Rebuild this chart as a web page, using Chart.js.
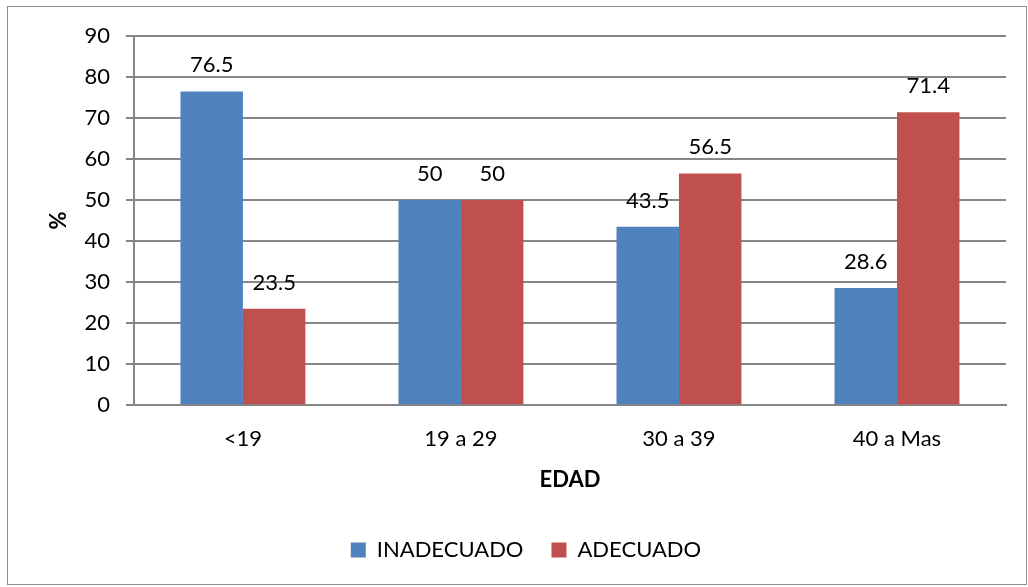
<!DOCTYPE html>
<html>
<head>
<meta charset="utf-8">
<script src="https://cdn.jsdelivr.net/npm/chart.js@4/dist/chart.umd.min.js"></script>
<style>
html,body{margin:0;padding:0;background:#fff;}
#wrap{position:relative;width:1028px;height:587px;}
</style>
</head>
<body>
<div id="wrap"><canvas id="c" width="1028" height="587"></canvas></div>
<script>
const categories = ["<19", "19 a 29", "30 a 39", "40 a Mas"];
const inadecuado = [76.5, 50, 43.5, 28.6];
const adecuado = [23.5, 50, 56.5, 71.4];
const seriesNames = ["INADECUADO", "ADECUADO"];
const yTicks = [0, 10, 20, 30, 40, 50, 60, 70, 80, 90];

const FONT = "Lato, 'Open Sans', sans-serif";

const frame = {
  id: 'frame',
  beforeDraw(chart) {
    const ctx = chart.ctx;
    ctx.save();
    ctx.fillStyle = '#fff';
    ctx.fillRect(0, 0, chart.width, chart.height);
    ctx.strokeStyle = '#8c8c8c';
    ctx.lineWidth = 1;
    ctx.strokeRect(7.5, 6.5, 1019, 578);
    ctx.restore();
  }
};

const valueLabels = {
  id: 'valueLabels',
  afterDatasetsDraw(chart) {
    const ctx = chart.ctx;
    ctx.save();
    ctx.font = "22px " + FONT;
    ctx.fillStyle = '#000';
    ctx.textAlign = 'center';
    ctx.textBaseline = 'alphabetic';
    chart.data.datasets.forEach((ds, i) => {
      const meta = chart.getDatasetMeta(i);
      meta.data.forEach((el, j) => {
        ctx.fillText(String(ds.data[j]), el.x, el.y - 19);
      });
    });
    ctx.restore();
  }
};

new Chart(document.getElementById('c'), {
  type: 'bar',
  data: {
    labels: categories,
    datasets: [
      { label: seriesNames[0], data: inadecuado, backgroundColor: '#4f81bd', borderWidth: 0 },
      { label: seriesNames[1], data: adecuado, backgroundColor: '#c0504d', borderWidth: 0 }
    ]
  },
  options: {
    responsive: false,
    animation: false,
    devicePixelRatio: 1,
    layout: { padding: { left: 46, right: 22, top: 36, bottom: 16 } },
    datasets: { bar: { categoryPercentage: 0.573, barPercentage: 1 } },
    plugins: {
      legend: {
        position: 'bottom',
        labels: {
          font: { family: FONT, size: 22 },
          color: '#000',
          boxWidth: 15, boxHeight: 15,
          padding: 28,
          generateLabels(chart) {
            return chart.data.datasets.map((d, i) => ({
              text: d.label, fillStyle: d.backgroundColor, strokeStyle: d.backgroundColor,
              lineWidth: 0, datasetIndex: i, hidden: false
            }));
          }
        }
      },
      tooltip: { enabled: false }
    },
    scales: {
      x: {
        grid: { display: false, drawTicks: false },
        border: { color: '#868686', width: 2 },
        ticks: { color: '#000', font: { family: FONT, size: 22 }, padding: 21 },
        title: { display: true, text: 'EDAD', color: '#000', font: { family: FONT, size: 22, weight: 'bold' }, padding: { top: -7, bottom: 18 } }
      },
      y: {
        min: 0, max: 90,
        afterBuildTicks(axis) { axis.ticks = yTicks.map(v => ({ value: v })); },
        grid: { color: '#868686', lineWidth: 2, tickLength: 8, drawTicks: true },
        border: { color: '#868686', width: 2 },
        ticks: { color: '#000', font: { family: FONT, size: 22 }, padding: 16 },
        title: { display: true, text: '%', color: '#000', font: { family: FONT, size: 22, weight: 'bold' }, padding: { top: 0, bottom: -4 } }
      }
    }
  },
  plugins: [frame, valueLabels]
});
</script>
</body>
</html>
